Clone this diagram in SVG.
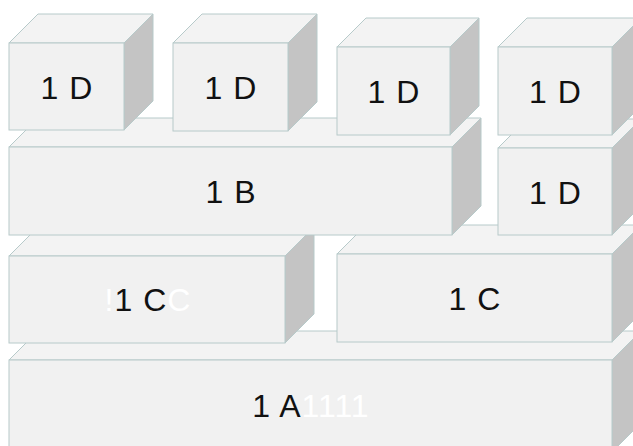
<svg xmlns="http://www.w3.org/2000/svg" width="633" height="446" viewBox="0 0 633 446">
<style>
.front{fill:#f1f1f1;stroke:#b7caca;stroke-width:1}
.top{fill:#f3f3f3;stroke:#b7caca;stroke-width:1}
.side{fill:#c4c4c4;stroke:#b7caca;stroke-width:1}
.lbl{font-family:"Liberation Sans",Arial,sans-serif;font-size:32px;letter-spacing:1px;fill:#111;text-anchor:middle}
.w{fill:#ffffff}
</style>
<rect width="633" height="446" fill="#ffffff"/>
<g id="n1A">
<polygon class="top" points="9,360 38,331 641,331 612,360"/>
<polygon class="side" points="612,360 641,331 641,423 612,452"/>
<rect class="front" x="9" y="360" width="603" height="92"/>
<text class="lbl" x="311" y="417">1 A<tspan class="w">1111</tspan></text>
</g>
<g id="n1C-left">
<polygon class="top" points="9,256 38,227 314,227 285,256"/>
<polygon class="side" points="285,256 314,227 314,314 285,343"/>
<rect class="front" x="9" y="256" width="276" height="87"/>
<text class="lbl" x="148" y="311"><tspan class="w">!</tspan>1 C<tspan class="w">C</tspan></text>
</g>
<g id="n1C-right">
<polygon class="top" points="337,254 366,225 641,225 612,254"/>
<polygon class="side" points="612,254 641,225 641,313 612,342"/>
<rect class="front" x="337" y="254" width="275" height="88"/>
<text class="lbl" x="475" y="309.5">1 C</text>
</g>
<g id="n1B">
<polygon class="top" points="9,147 38,118 481,118 452,147"/>
<polygon class="side" points="452,147 481,118 481,206 452,235"/>
<rect class="front" x="9" y="147" width="443" height="88"/>
<text class="lbl" x="231" y="202.5">1 B</text>
</g>
<g id="n1D-5">
<polygon class="top" points="498,148 527,119 641,119 612,148"/>
<polygon class="side" points="612,148 641,119 641,206 612,235"/>
<rect class="front" x="498" y="148" width="114" height="87"/>
<text class="lbl" x="555.5" y="203.5">1 D</text>
</g>
<g id="n1D-1">
<polygon class="top" points="9,43 38,14 153,14 124,43"/>
<polygon class="side" points="124,43 153,14 153,101 124,130"/>
<rect class="front" x="9" y="43" width="115" height="87"/>
<text class="lbl" x="67" y="98.5">1 D</text>
</g>
<g id="n1D-2">
<polygon class="top" points="173,43 202,14 317,14 288,43"/>
<polygon class="side" points="288,43 317,14 317,102 288,131"/>
<rect class="front" x="173" y="43" width="115" height="88"/>
<text class="lbl" x="231" y="98.5">1 D</text>
</g>
<g id="n1D-3">
<polygon class="top" points="337,47 366,18 479,18 450,47"/>
<polygon class="side" points="450,47 479,18 479,106 450,135"/>
<rect class="front" x="337" y="47" width="113" height="88"/>
<text class="lbl" x="394" y="102.5">1 D</text>
</g>
<g id="n1D-4">
<polygon class="top" points="498,47 527,18 641,18 612,47"/>
<polygon class="side" points="612,47 641,18 641,106 612,135"/>
<rect class="front" x="498" y="47" width="114" height="88"/>
<text class="lbl" x="555.5" y="102.5">1 D</text>
</g>
<g id="connectors"></g>
</svg>
